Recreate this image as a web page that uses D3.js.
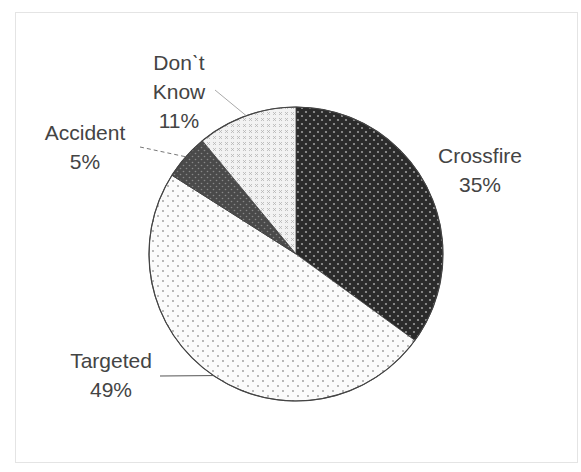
<!DOCTYPE html>
<html>
<head>
<meta charset="utf-8">
<script src="https://cdn.jsdelivr.net/npm/d3@7"></script>
<style>
  body { margin: 0; background: #fff; }
  svg text { font-family: "Liberation Sans", Arial, sans-serif; font-size: 21px; fill: #444; }
</style>
</head>
<body>
<svg id="chart" width="581" height="472"></svg>
<script>
'use strict';

// slice data, clockwise from 12 o'clock
var categories = ['Crossfire', 'Targeted', 'Accident', "Don't Know"];
var values = [35, 49, 5, 11];
var labelLines = [['Crossfire', '35%'], ['Targeted', '49%'], ['Accident', '5%'], ['Don\u02cbt', 'Know', '11%']];
var patternIds = ['pCross', 'pTarget', 'pAccident', 'pDontKnow'];

var svg = d3.select('#chart');
var cx = 296, cy = 254, radius = 147;

// faint frame
svg.append('rect')
    .attr('x', 15.5).attr('y', 12.5)
    .attr('width', 562).attr('height', 450)
    .attr('fill', 'none')
    .attr('stroke', '#e4e4e4');

var defs = svg.append('defs');

// crossfire: dark with light dots
var p1 = defs.append('pattern').attr('id', 'pCross')
    .attr('patternUnits', 'userSpaceOnUse').attr('width', 8).attr('height', 8);
p1.append('rect').attr('width', 8).attr('height', 8).attr('fill', '#2b2b2b');
p1.append('circle').attr('cx', 2).attr('cy', 2).attr('r', 1.1).attr('fill', '#9a9a9a');
p1.append('circle').attr('cx', 6).attr('cy', 6).attr('r', 1.1).attr('fill', '#9a9a9a');

// targeted: white with grey dots
var p2 = defs.append('pattern').attr('id', 'pTarget')
    .attr('patternUnits', 'userSpaceOnUse').attr('width', 10).attr('height', 10);
p2.append('rect').attr('width', 10).attr('height', 10).attr('fill', '#fbfbfb');
p2.append('circle').attr('cx', 2).attr('cy', 2).attr('r', 0.9).attr('fill', '#999');
p2.append('circle').attr('cx', 7).attr('cy', 7).attr('r', 0.9).attr('fill', '#999');

// accident: mid grey with small light dots
var p3 = defs.append('pattern').attr('id', 'pAccident')
    .attr('patternUnits', 'userSpaceOnUse').attr('width', 6).attr('height', 6);
p3.append('rect').attr('width', 6).attr('height', 6).attr('fill', '#4a4a4a');
p3.append('circle').attr('cx', 1.5).attr('cy', 1.5).attr('r', 0.8).attr('fill', '#888');
p3.append('circle').attr('cx', 4.5).attr('cy', 4.5).attr('r', 0.8).attr('fill', '#888');

// don't know: light with rows of tiny crosses
var p4 = defs.append('pattern').attr('id', 'pDontKnow')
    .attr('patternUnits', 'userSpaceOnUse').attr('width', 6).attr('height', 6);
p4.append('rect').attr('width', 6).attr('height', 6).attr('fill', '#f2f2f2');
p4.append('path').attr('d', 'M1,2 L4,5 M4,2 L1,5')
    .attr('stroke', '#b5b5b5').attr('stroke-width', 0.8);

var pie = d3.pie().sort(null).value(function(d) { return d; });
var arcs = pie(values);
var arc = d3.arc().innerRadius(0).outerRadius(radius);

var g = svg.append('g').attr('transform', 'translate(' + cx + ',' + cy + ')');

g.selectAll('path.slice')
    .data(arcs)
    .enter().append('path')
        .attr('class', 'slice')
        .attr('d', arc)
        .attr('fill', function(d, i) { return 'url(#' + patternIds[i] + ')'; })
        .attr('stroke', '#3a3a3a')
        .attr('stroke-width', 0.8);

g.append('circle').attr('r', radius)
    .attr('fill', 'none').attr('stroke', '#444').attr('stroke-width', 1.2);

// labels (absolute positions of first baseline, centred)
var labelPos = [[480, 163], [111, 368], [85, 140], [179, 70]];
var lineGap = 29;
// leader line outer ends, null where there is none
var leaderEnds = [null, [160, 376], [140, 147], [215, 90]];
var leaderDash = [null, null, '4,3', null];
var leaderColor = [null, '#555', '#777', '#aaa'];

arcs.forEach(function(d, i) {
    var txt = svg.append('text')
        .attr('text-anchor', 'middle')
        .attr('x', labelPos[i][0]).attr('y', labelPos[i][1]);
    labelLines[i].forEach(function(line, j) {
        txt.append('tspan')
            .attr('x', labelPos[i][0])
            .attr('y', labelPos[i][1] + j * lineGap)
            .text(line);
    });

    if (leaderEnds[i]) {
        var mid = (d.startAngle + d.endAngle) / 2;
        var px = cx + radius * Math.sin(mid);
        var py = cy - radius * Math.cos(mid);
        svg.append('line')
            .attr('x1', leaderEnds[i][0]).attr('y1', leaderEnds[i][1])
            .attr('x2', px).attr('y2', py)
            .attr('stroke', leaderColor[i])
            .attr('stroke-width', 1)
            .attr('stroke-dasharray', leaderDash[i]);
    }
});
</script>
</body>
</html>
